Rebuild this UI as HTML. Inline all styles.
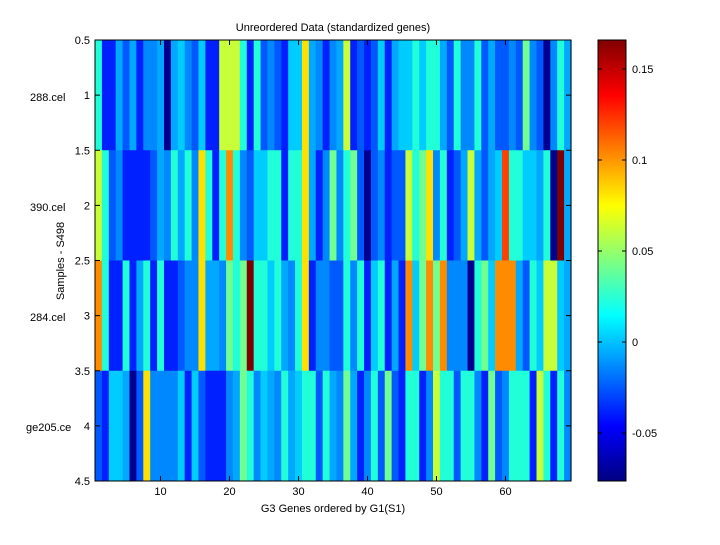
<!DOCTYPE html><html><head><style>body{margin:0;background:#fff}svg{font-family:"Liberation Sans",sans-serif;font-size:11px}</style></head><body>
<svg id="s" width="720" height="540" xmlns="http://www.w3.org/2000/svg">
<defs><linearGradient id="jet" x1="0" y1="0" x2="0" y2="1">
<stop offset="0" stop-color="#800000"/><stop offset="0.125" stop-color="#ff0000"/><stop offset="0.375" stop-color="#ffff00"/><stop offset="0.625" stop-color="#00ffff"/><stop offset="0.875" stop-color="#0000ff"/><stop offset="1" stop-color="#000080"/></linearGradient></defs>
<g id="cells"></g>
<rect x="95" y="40" width="476" height="441" fill="none" stroke="#000"/>
<rect x="598" y="40" width="28" height="441" fill="url(#jet)" stroke="#000"/>
<g id="ax"></g>
<text x="333" y="31" text-anchor="middle">Unreordered Data (standardized genes)</text>
<text x="333" y="512" text-anchor="middle">G3 Genes ordered by G1(S1)</text>
<text transform="translate(64,261) rotate(-90)" text-anchor="middle">Samples - S498</text>
<text x="30" y="101">288.cel</text><text x="30" y="211">390.cel</text><text x="30" y="321">284.cel</text><text x="26" y="431">ge205.ce</text>
</svg>
<script>
const C={D:"#000090",B:"#0020ff",b:"#0058ff",m:"#0088ff",c:"#00a8ff",C:"#00ccff",T:"#20ffd8",G:"#70ff90",Y:"#c8ff38",y:"#ffe000",O:"#ff8c00",R:"#ff4000",K:"#800000"};
const rows=[
"TBBcbcBmmcDcCmbCBBYYYTBTbmbBCCycmBmcYBbBbCBcCCTCTTcbTmmTbcbbmbGmbDmTc",
"YTbmBBBBbcmTcTmyTBTOTmbCCTTBTTycBmGmTGbDbmBbbYTGymTBbcYcbcCRTTCCcTDKc",
"OTBBTBcTBTBBbmmyccmGTGKTTCTcmTyBmmbbTmTBCTBcBOCGOGOmmmDTGCOOOcbTCYYCc",
"bBCCcDbymmmmCBCbBBBmcGTmCcmTcCTTbTcmGcBmTbGbBTTBmYTTbTTmBGbmTTTBYTBTm"];
const g=document.getElementById("cells");let h="";const w=476/69;
rows.forEach((r,i)=>{for(let j=0;j<69;j++){const ch=r[j]||"m";h+=`<rect x="${95+j*w}" y="${40+i*110.25}" width="${w+0.6}" height="110.6" fill="${C[ch]}"/>`;}});
g.innerHTML=h;
let a="";
for(let v=10;v<=60;v+=10){const x=95+(v-0.5)*w;a+=`<line x1="${x}" y1="481" x2="${x}" y2="476" stroke="#000"/><line x1="${x}" y1="40" x2="${x}" y2="45" stroke="#000"/><text x="${x}" y="495" text-anchor="middle">${v}</text>`;}
[0.5,1,1.5,2,2.5,3,3.5,4,4.5].forEach(v=>{const y=40+(v-0.5)*110.25;a+=`<line x1="95" y1="${y}" x2="100" y2="${y}" stroke="#000"/><line x1="571" y1="${y}" x2="566" y2="${y}" stroke="#000"/><text x="90" y="${y+4}" text-anchor="end">${v}</text>`;});
[[0.15,"0.15"],[0.1,"0.1"],[0.05,"0.05"],[0,"0"],[-0.05,"-0.05"]].forEach(([v,l])=>{const y=342-v/0.05*91;a+=`<line x1="598" y1="${y}" x2="602" y2="${y}" stroke="#000"/><line x1="626" y1="${y}" x2="622" y2="${y}" stroke="#000"/><text x="632" y="${y+4}">${l}</text>`;});
document.getElementById("ax").innerHTML=a;
</script></body></html>
